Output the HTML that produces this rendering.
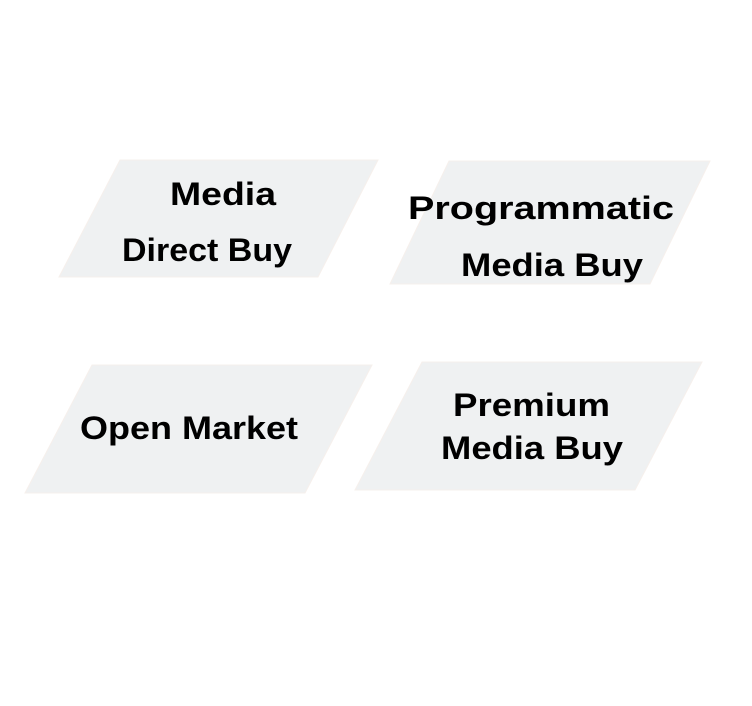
<!DOCTYPE html>
<html><head><meta charset="utf-8"><style>
html,body{margin:0;padding:0;background:#fff;}
svg{display:block}
text{font-family:"Liberation Sans",sans-serif;font-weight:bold;font-size:32px;fill:#000;}
</style></head><body>
<svg width="752" height="706" viewBox="0 0 752 706" xmlns="http://www.w3.org/2000/svg">
<rect width="752" height="706" fill="#fff"/>
<g fill="#eff1f2" stroke="#f6f0ec" stroke-width="1">
<polygon points="120,160 378,160 318,277 59,277"/>
<polygon points="449,161 710,161 650,284 390,284"/>
<polygon points="92,365 372,365 305,493 25,493"/>
<polygon points="422,362 702,362 635,490 355,490"/>
</g>
<text x="170" y="205" textLength="106" lengthAdjust="spacingAndGlyphs">Media</text>
<text x="122" y="261" textLength="170" lengthAdjust="spacingAndGlyphs">Direct Buy</text>
<text x="408" y="219" textLength="266" lengthAdjust="spacingAndGlyphs">Programmatic</text>
<text x="461" y="276" textLength="182" lengthAdjust="spacingAndGlyphs">Media Buy</text>
<text x="80" y="439" textLength="218" lengthAdjust="spacingAndGlyphs">Open Market</text>
<text x="453" y="416" textLength="157" lengthAdjust="spacingAndGlyphs">Premium</text>
<text x="441" y="459" textLength="182" lengthAdjust="spacingAndGlyphs">Media Buy</text>
</svg>
</body></html>
